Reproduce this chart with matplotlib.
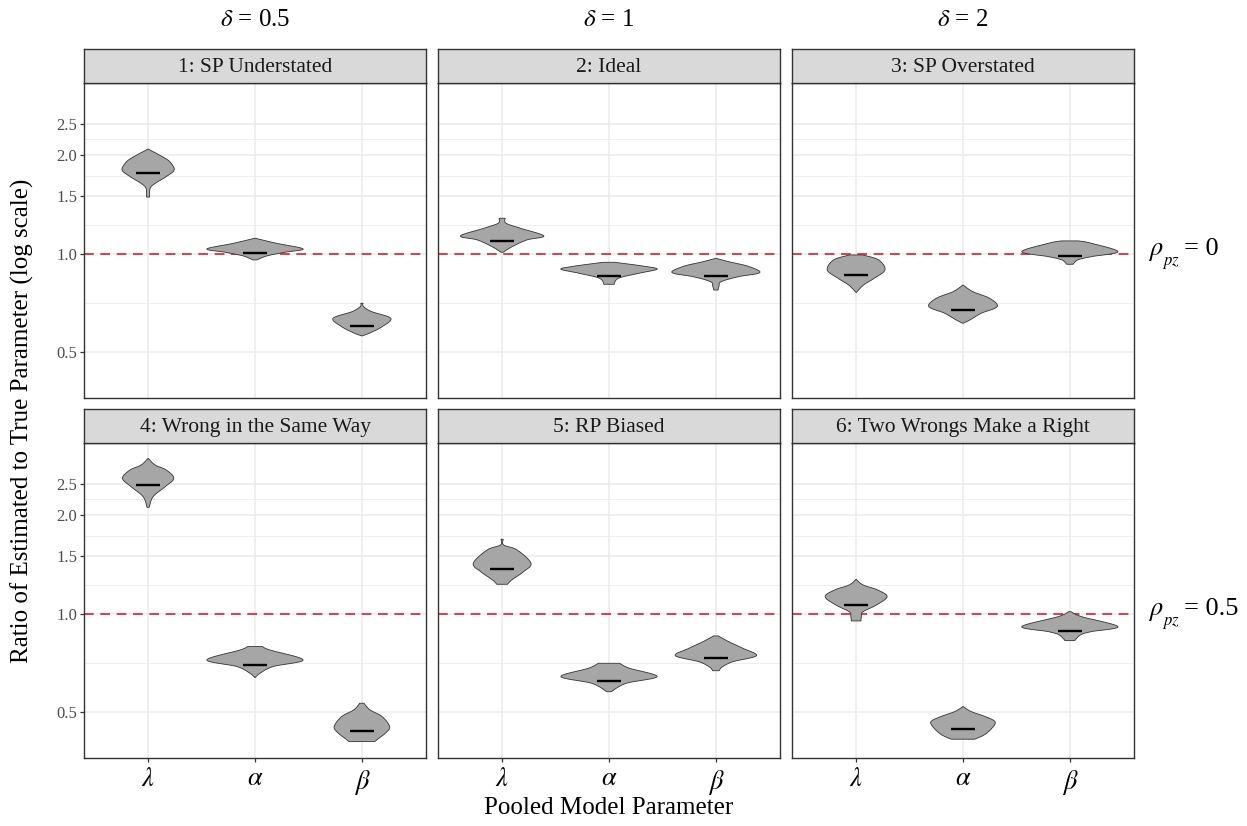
import numpy as np
import matplotlib.pyplot as plt
from matplotlib.ticker import FixedLocator, NullFormatter

plt.rcParams['font.family'] = ['Liberation Serif', 'DejaVu Serif']
plt.rcParams['mathtext.fontset'] = 'stix'

# facet labels
params = [r'$\lambda$', r'$\alpha$', r'$\beta$']
titles = ['1: SP Understated', '2: Ideal', '3: SP Overstated',
          '4: Wrong in the Same Way', '5: RP Biased', '6: Two Wrongs Make a Right']
col_labels = [r'$\delta$ = 0.5', r'$\delta$ = 1', r'$\delta$ = 2']
rho_values = ['0', '0.5']

# median ratio per panel (lambda, alpha, beta)
p1_med = [1.765, 1.005, 0.601]
p2_med = [1.094, 0.855, 0.855]
p3_med = [0.861, 0.673, 0.986]
p4_med = [2.475, 0.697, 0.438]
p5_med = [1.367, 0.623, 0.734]
p6_med = [1.065, 0.444, 0.885]

# violin outlines: ratio levels (top -> bottom) and half widths at each level
p1_lev = [[2.09, 1.958, 1.89, 1.80, 1.72, 1.64, 1.585, 1.49],
          [1.115, 1.076, 1.034, 1.01, 0.984, 0.957],
          [0.705, 0.689, 0.665, 0.634, 0.598, 0.572, 0.56]]
p1_hw = [[0.0, 0.159, 0.215, 0.243, 0.168, 0.065, 0.02, 0.014],
         [0.0, 0.20, 0.45, 0.28, 0.11, 0.02],
         [0.01, 0.015, 0.09, 0.27, 0.19, 0.075, 0.0]]

p2_lev = [[1.283, 1.239, 1.196, 1.133, 1.101, 1.05, 1.01],
          [0.941, 0.935, 0.913, 0.896, 0.871, 0.841, 0.806],
          [0.968, 0.945, 0.913, 0.875, 0.85, 0.821, 0.797, 0.774]]
p2_hw = [[0.028, 0.037, 0.17, 0.39, 0.23, 0.093, 0.01],
         [0.05, 0.12, 0.35, 0.45, 0.28, 0.09, 0.047],
         [0.0, 0.12, 0.31, 0.41, 0.21, 0.05, 0.03, 0.02]]

p3_lev = [[0.991, 0.957, 0.892, 0.841, 0.802, 0.76],
          [0.802, 0.765, 0.73, 0.689, 0.657, 0.627, 0.612],
          [1.094, 1.076, 1.014, 0.979, 0.957, 0.928]]
p3_hw = [[0.06, 0.21, 0.27, 0.17, 0.07, 0.0],
         [0.0, 0.093, 0.25, 0.32, 0.17, 0.065, 0.0],
         [0.08, 0.2, 0.45, 0.2, 0.075, 0.03]]

p4_lev = [[2.987, 2.85, 2.75, 2.595, 2.446, 2.28, 2.115],
          [0.793, 0.774, 0.722, 0.689, 0.657, 0.637],
          [0.532, 0.508, 0.484, 0.451, 0.431, 0.416, 0.406]]
p4_hw = [[0.0, 0.065, 0.17, 0.24, 0.16, 0.047, 0.01],
         [0.07, 0.14, 0.45, 0.17, 0.047, 0.0],
         [0.02, 0.075, 0.19, 0.26, 0.22, 0.16, 0.12]]

p5_lev = [[1.689, 1.622, 1.566, 1.426, 1.344, 1.268, 1.23],
          [0.705, 0.681, 0.642, 0.612, 0.577],
          [0.855, 0.821, 0.784, 0.744, 0.713, 0.687, 0.669]]
p5_hw = [[0.01, 0.015, 0.14, 0.27, 0.2, 0.09, 0.05],
         [0.1, 0.19, 0.45, 0.16, 0.02],
         [0.02, 0.12, 0.25, 0.38, 0.16, 0.06, 0.03]]

p6_lev = [[1.274, 1.224, 1.182, 1.127, 1.063, 1.014, 0.984, 0.95],
          [0.52, 0.502, 0.484, 0.467, 0.446, 0.426, 0.413],
          [1.014, 0.979, 0.913, 0.881, 0.861, 0.827]]
p6_hw = [[0.0, 0.065, 0.2, 0.29, 0.19, 0.065, 0.05, 0.045],
         [0.0, 0.075, 0.21, 0.3, 0.27, 0.2, 0.11],
         [0.01, 0.11, 0.45, 0.2, 0.1, 0.045]]

panels = [(p1_lev, p1_hw, p1_med), (p2_lev, p2_hw, p2_med), (p3_lev, p3_hw, p3_med),
          (p4_lev, p4_hw, p4_med), (p5_lev, p5_hw, p5_med), (p6_lev, p6_hw, p6_med)]

y_breaks = [0.5, 1.0, 1.5, 2.0, 2.5]
y_minor = [np.sqrt(0.5), np.sqrt(1.5), np.sqrt(3.0), np.sqrt(5.0)]


def smooth_outline(lev, hw, n=24):
    # catmull-rom through the profile points, in log space
    pts = np.column_stack([np.log(lev), hw])
    p = np.vstack([pts[0], pts, pts[-1]])
    t = np.linspace(0, 1, n, endpoint=False)[:, None]
    out = []
    for i in range(1, len(p) - 2):
        p0, p1, p2, p3 = p[i - 1], p[i], p[i + 1], p[i + 2]
        seg = 0.5 * (2 * p1 + (-p0 + p2) * t
                     + (2 * p0 - 5 * p1 + 4 * p2 - p3) * t ** 2
                     + (-p0 + 3 * p1 - 3 * p2 + p3) * t ** 3)
        out.append(seg)
    out.append(pts[-1:])
    out = np.vstack(out)
    return np.exp(out[:, 0]), np.clip(out[:, 1], 0, None)


W, H = 1247, 826
fig = plt.figure(figsize=(W / 100, H / 100), dpi=100)

col_left = [84, 438, 792]
pw = 342
row_top = [83.3, 443.3]
ph = 315
strip_h = 34

dark = '#333333'
grid_c = '#EBEBEB'

for k, (lev, hw, med) in enumerate(panels):
    r, c = divmod(k, 3)
    x0 = col_left[c] / W
    y0 = 1 - (row_top[r] + ph) / H
    ax = fig.add_axes([x0, y0, pw / W, ph / H])
    ax.set_yscale('log')
    ax.set_xlim(0.4, 3.6)
    ax.set_ylim(0.361, 3.32)
    ax.yaxis.set_major_locator(FixedLocator(y_breaks))
    ax.yaxis.set_minor_locator(FixedLocator(y_minor))
    ax.yaxis.set_minor_formatter(NullFormatter())
    ax.set_xticks([1, 2, 3])
    ax.grid(which='major', color=grid_c, lw=1.1, zorder=0)
    ax.grid(which='minor', axis='y', color=grid_c, lw=0.6, zorder=0)
    ax.set_axisbelow(True)
    ax.axhline(1.0, color='#E8394A', lw=1.4, ls=(0, (5, 3.4)), zorder=1)

    for j in range(3):
        ys, ws = smooth_outline(lev[j], hw[j])
        xs = np.concatenate([(j + 1) + ws, ((j + 1) - ws)[::-1]])
        yy = np.concatenate([ys, ys[::-1]])
        ax.fill(xs, yy, facecolor='#A6A6A6', edgecolor=dark, lw=0.6, zorder=2)
        ax.plot([j + 1 - 0.112, j + 1 + 0.112], [med[j], med[j]],
                color='black', lw=1.7, solid_capstyle='butt', zorder=3)

    for s in ax.spines.values():
        s.set_color(dark)
        s.set_linewidth(1.0)
    ax.tick_params(which='minor', length=0)
    ax.tick_params(which='major', length=3, width=0.9, color=dark)
    if c == 0:
        ax.set_yticklabels([f'{v:.1f}' for v in y_breaks], fontsize=12, color='#4D4D4D')
        ax.tick_params(axis='y', pad=2)
    else:
        ax.tick_params(axis='y', which='major', length=0, labelleft=False)
    if r == 1:
        ax.set_xticklabels(params, fontsize=19, color='black')
        ax.tick_params(axis='x', pad=4)
    else:
        ax.tick_params(axis='x', length=0, labelbottom=False)

    # strip above the panel
    sax = fig.add_axes([x0, 1 - row_top[r] / H, pw / W, strip_h / H])
    sax.set_facecolor('#D9D9D9')
    sax.set_xticks([])
    sax.set_yticks([])
    for s in sax.spines.values():
        s.set_color(dark)
        s.set_linewidth(1.0)
    sax.text(0.5, 0.47, titles[k], transform=sax.transAxes, ha='center', va='center',
             fontsize=15.5, color='#1A1A1A')

for c in range(3):
    fig.text((col_left[c] + pw / 2) / W, 1 - 20 / H, col_labels[c],
             ha='center', va='center', fontsize=18)

# row labels on the right: rho with a dropped "pz" subscript
for r in range(2):
    base = 255 + 360 * r
    fig.text(1148 / W, 1 - base / H, r'$\rho$', ha='left', va='baseline', fontsize=19)
    fig.text(1162 / W, 1 - (base + 10) / H, r'$pz$', ha='left', va='baseline', fontsize=12)
    fig.text(1184 / W, 1 - base / H, '= ' + rho_values[r], ha='left', va='baseline',
             fontsize=19)

fig.text(609 / W, 1 - 808 / H, 'Pooled Model Parameter', ha='center', va='center', fontsize=18)
fig.text(22 / W, 1 - 421 / H, 'Ratio of Estimated to True Parameter (log scale)',
         ha='center', va='center', rotation=90, fontsize=18)

fig.savefig('out.png', dpi=100)
